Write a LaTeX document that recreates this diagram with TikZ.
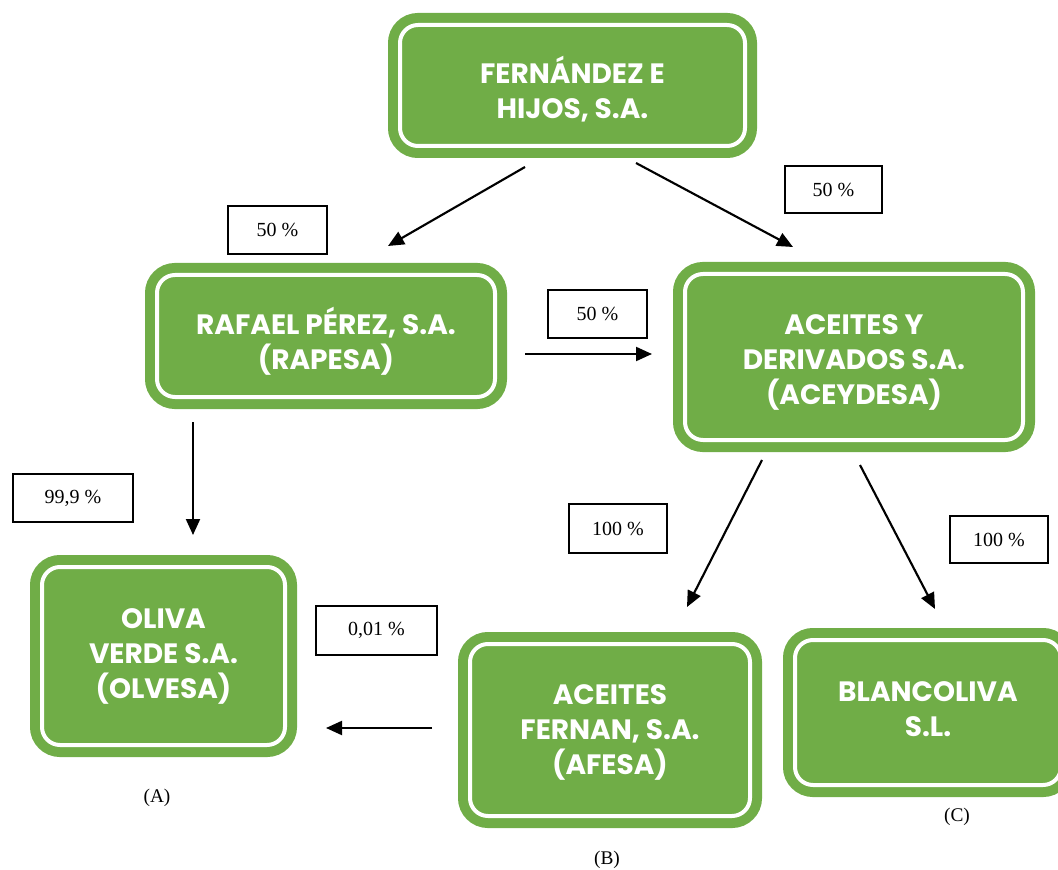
\documentclass[tikz,border=0pt]{standalone}
\usepackage{fontspec}
\setmainfont{Liberation Serif}
\newfontfamily\boxfont{Poppins}
\usetikzlibrary{arrows.meta}
\definecolor{leaf}{HTML}{70AD47}
\tikzset{
  boxsize/.style 2 args={minimum width=#1*0.75pt, minimum height=#2*0.75pt},
  company/.style={fill=leaf, draw=white, line width=3pt, rounded corners=13.5pt,
    preaction={draw=leaf, line width=18pt}, inner sep=0pt},
  companytext/.style={text=white, align=center, inner sep=0pt,
    font=\boxfont\bfseries\fontsize{21}{26.25}\selectfont},
  pct/.style={draw=black, line width=0.9pt, fill=white, inner sep=0pt,
    font=\fontsize{15}{18}\selectfont},
  caption/.style={font=\fontsize{14.5}{17}\selectfont, inner sep=0pt},
  link/.style={line width=1.6pt, -{Triangle[length=12pt,width=10.5pt]}}
}
\begin{document}
\begin{tikzpicture}[x=0.75pt,y=-0.75pt]
\clip (0,0) rectangle (1058,870);
\useasboundingbox (0,0) rectangle (1058,870);
% companies
\node[company, boxsize={345}{121},
  label={[companytext, yshift=-2.6pt]center:{FERNÁNDEZ E\\HIJOS, S.A.}}] (fh) at (572.5,85.5) {};
\node[company, boxsize={338}{122},
  label={[companytext, yshift=-3.7pt]center:{RAFAEL PÉREZ, S.A.\\(RAPESA)}}] (rp) at (326,336) {};
\node[company, boxsize={338}{166},
  label={[companytext, yshift=-4.3pt]center:{ACEITES Y\\DERIVADOS S.A.\\(ACEYDESA)}}] (ad) at (854,357) {};
\node[company, boxsize={243}{178},
  label={[companytext]center:{OLIVA\\VERDE S.A.\\(OLVESA)}}] (ov) at (163.5,656) {};
\node[company, boxsize={280}{172},
  label={[companytext, yshift=-2.2pt]center:{ACEITES\\FERNAN, S.A.\\(AFESA)}}] (af) at (610,730) {};
\node[company, boxsize={266}{145},
  label={[companytext, yshift=2.2pt]center:{BLANCOLIVA\\S.L.}}] (bl) at (928,712.5) {};
% percentages
\node[pct, boxsize={99}{48}] (p1) at (277.5,230) {50 \%};
\node[pct, boxsize={97}{47}] (p2) at (833.5,189.5) {50 \%};
\node[pct, boxsize={99}{48}] (p3) at (597.5,314) {50 \%};
\node[pct, boxsize={120}{48}] (p4) at (73,498) {99,9 \%};
\node[pct, boxsize={98}{49}] (p5) at (618,528.5) {100 \%};
\node[pct, boxsize={98}{47}] (p6) at (999,539.5) {100 \%};
\node[pct, boxsize={121}{49}] (p7) at (376.5,630.5) {0,01 \%};
% captions
\node[caption] (ca) at (157,798) {(A)};
\node[caption] (cb) at (607,860) {(B)};
\node[caption] (cc) at (957,817) {(C)};
% arrow ends
\coordinate (a1s) at (525,167); \coordinate (a1e) at (388,246);
\coordinate (a2s) at (636,163); \coordinate (a2e) at (793,247);
\coordinate (a3s) at (525,354); \coordinate (a3e) at (652,354);
\coordinate (a4s) at (193,422); \coordinate (a4e) at (193,535);
\coordinate (a5s) at (762,460); \coordinate (a5e) at (687,607);
\coordinate (a6s) at (860,465); \coordinate (a6e) at (935,609);
\coordinate (a7s) at (432,728); \coordinate (a7e) at (326,728);
\draw[link] (a1s) -- (a1e);
\draw[link] (a2s) -- (a2e);
\draw[link] (a3s) -- (a3e);
\draw[link] (a4s) -- (a4e);
\draw[link] (a5s) -- (a5e);
\draw[link] (a6s) -- (a6e);
\draw[link] (a7s) -- (a7e);
\end{tikzpicture}
\end{document}
